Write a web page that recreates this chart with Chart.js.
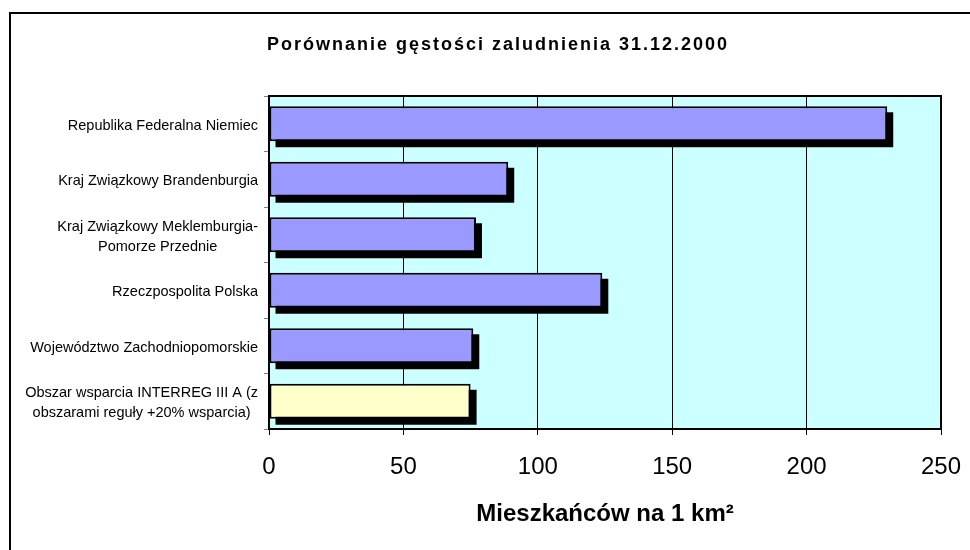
<!DOCTYPE html>
<html lang="pl">
<head>
<meta charset="UTF-8">
<title>Porównanie gęstości zaludnienia</title>
<script src="https://cdn.jsdelivr.net/npm/chart.js"></script>
<style>
  html, body { margin: 0; padding: 0; background: #fff; }
  #wrap { width: 970px; height: 550px; position: relative; }
</style>
</head>
<body>
<div id="wrap"><canvas id="wykres"></canvas></div>
<script>
  const kategorie = [
    ['Republika Federalna Niemiec'],
    ['Kraj Związkowy Brandenburgia'],
    ['Kraj Związkowy Meklemburgia-', 'Pomorze Przednie'],
    ['Rzeczpospolita Polska'],
    ['Województwo Zachodniopomorskie'],
    ['Obszar wsparcia INTERREG III A (z', 'obszarami reguły +20% wsparcia)']
  ];
  const gestosc = [230, 89, 77, 124, 76, 75];
  const kolorySlupkow = ['#9999ff', '#9999ff', '#9999ff', '#9999ff', '#9999ff', '#ffffcc'];
  const podzialkaX = [0, 50, 100, 150, 200, 250];
  const tytul = 'Porównanie gęstości zaludnienia 31.12.2000';
  const tytulOsi = 'Mieszkańców na 1 km²';

  const czcionka = "'Liberation Sans', Arial, sans-serif";

  // tlo, ramka i tytul wykresu
  const tlo = {
    id: 'tlo',
    beforeDraw(chart) {
      const ctx = chart.ctx, a = chart.chartArea;
      ctx.save();
      ctx.fillStyle = '#fff';
      ctx.fillRect(0, 0, chart.width, chart.height);
      ctx.fillStyle = '#ccffff';
      ctx.fillRect(a.left, a.top, a.right - a.left, a.bottom - a.top);
      ctx.strokeStyle = '#000';
      ctx.lineWidth = 2;
      ctx.beginPath();
      ctx.moveTo(10, chart.height);
      ctx.lineTo(10, 13);
      ctx.lineTo(chart.width, 13);
      ctx.stroke();
      ctx.fillStyle = '#000';
      ctx.font = 'bold 18px ' + czcionka;
      ctx.letterSpacing = '2px';
      ctx.textAlign = 'center';
      ctx.textBaseline = 'middle';
      ctx.fillText(tytul, 498, 45);
      ctx.restore();
    }
  };

  // cien pod slupkami i ramka obszaru wykresu
  const cien = {
    id: 'cien',
    beforeDatasetsDraw(chart) {
      const ctx = chart.ctx;
      ctx.save();
      ctx.fillStyle = '#000';
      chart.getDatasetMeta(0).data.forEach(b => {
        const p = b.getProps(['x', 'y', 'base', 'height'], true);
        ctx.fillRect(p.base + 6, p.y - p.height / 2 + 6, p.x - p.base, p.height);
      });
      ctx.restore();
    },
    afterDatasetsDraw(chart) {
      const ctx = chart.ctx, a = chart.chartArea;
      ctx.save();
      ctx.strokeStyle = '#000';
      ctx.lineWidth = 2;
      ctx.strokeRect(a.left, a.top, a.right - a.left, a.bottom - a.top);
      ctx.restore();
    }
  };

  // etykiety kategorii: blok wyrownany do prawej, linie wysrodkowane
  const etykiety = {
    id: 'etykiety',
    afterDraw(chart) {
      const ctx = chart.ctx, y = chart.scales.y;
      ctx.save();
      ctx.font = '14.5px ' + czcionka;
      ctx.fillStyle = '#000';
      ctx.textAlign = 'center';
      ctx.textBaseline = 'middle';
      kategorie.forEach((linie, i) => {
        const szer = Math.max(...linie.map(t => ctx.measureText(t).width));
        const xs = 258 - szer / 2;
        const yc = y.getPixelForValue(i) + 2;
        const odstep = 20;
        linie.forEach((t, j) => {
          ctx.fillText(t, xs, yc + (j - (linie.length - 1) / 2) * odstep);
        });
      });
      ctx.restore();
    }
  };

  new Chart(document.getElementById('wykres'), {
    type: 'bar',
    data: {
      labels: kategorie.map(l => l.join(' ')),
      datasets: [{
        data: gestosc,
        backgroundColor: kolorySlupkow,
        borderColor: '#000',
        borderWidth: 2,
        borderSkipped: false,
        barPercentage: 0.63,
        categoryPercentage: 1
      }]
    },
    options: {
      indexAxis: 'y',
      responsive: true,
      maintainAspectRatio: false,
      animation: false,
      devicePixelRatio: 1,
      layout: { padding: { top: 96, right: 29, left: 0, bottom: 0 } },
      plugins: {
        legend: { display: false },
        tooltip: { enabled: false },
        title: { display: false }
      },
      scales: {
        y: {
          type: 'category',
          ticks: { display: false },
          grid: { drawOnChartArea: false, drawTicks: true, tickLength: 5, color: '#808080', offset: true },
          border: { display: true, color: '#000', width: 2 },
          afterFit(s) { s.width = 269; }
        },
        x: {
          type: 'linear',
          min: podzialkaX[0],
          max: podzialkaX[podzialkaX.length - 1],
          afterBuildTicks(s) { s.ticks = podzialkaX.map(v => ({ value: v })); },
          ticks: { color: '#000', font: { family: czcionka, size: 24 }, padding: 18 },
          grid: { color: '#000', lineWidth: 1, tickLength: 6 },
          border: { display: true, color: '#000', width: 2 },
          title: {
            display: true,
            text: tytulOsi,
            color: '#000',
            font: { family: czcionka, size: 24, weight: 'bold' },
            padding: { top: 0, bottom: 21 }
          },
          afterFit(s) {
            s.height = 121;
            s.paddingLeft = 0;
            s.paddingRight = 0;
          }
        }
      }
    },
    plugins: [tlo, cien, etykiety]
  });
</script>
</body>
</html>
